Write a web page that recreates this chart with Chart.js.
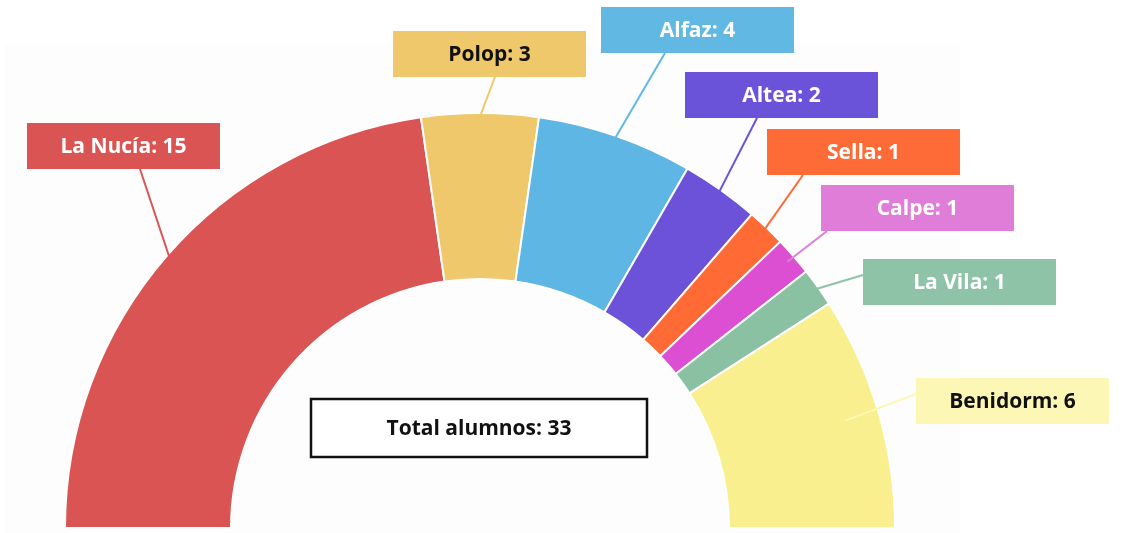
<!DOCTYPE html>
<html>
<head>
<meta charset="utf-8">
<script src="https://cdn.jsdelivr.net/npm/chart.js@4/dist/chart.umd.min.js"></script>
<style>
  html, body { margin: 0; padding: 0; background: #fff; }
  canvas { display: block; }
</style>
</head>
<body>
<canvas id="myChart" width="1129" height="533"></canvas>
<script>
// alumnos por municipio
const towns = ['La Nucía', 'Polop', 'Alfaz', 'Altea', 'Sella', 'Calpe', 'La Vila', 'Benidorm'];
const students = [15, 3, 4, 2, 1, 1, 1, 6];

const sliceColors = ['#db5454', '#eec86a', '#5db6e3', '#6b52d9', '#ff6a35', '#dc4ed2', '#8bc1a3', '#f9ef8f'];
const boxColors = ['#db5454', '#eec86a', '#60b8e3', '#6b53d9', '#ff6b36', '#e07dd9', '#8fc3a7', '#fdf7b5'];
const textColors = ['#fff', '#111', '#fff', '#fff', '#fff', '#fff', '#fff', '#111'];

// where each callout box sits, where its line leaves the box, and how deep it reaches into the ring
const callouts = [
    { x: 27, y: 123, ax: 113, ay: 46, depth: 0.97 },
    { x: 393, y: 31, ax: 102, ay: 46, depth: 0.98 },
    { x: 601, y: 7, ax: 64, ay: 46, depth: 0.98 },
    { x: 685, y: 72, ax: 72, ay: 46, depth: 0.98 },
    { x: 767, y: 129, ax: 36, ay: 46, depth: 0.98 },
    { x: 821, y: 185, ax: 6, ay: 46, depth: 0.95 },
    { x: 863, y: 259, ax: 0, ay: 16, depth: 0.98 },
    { x: 916, y: 378, ax: 0, ay: 16, depth: 0.79 }
];
const boxW = 193;
const boxH = 46;
const labelFont = 'bold 21px "Open Sans"';

const total = students.reduce((a, b) => a + b, 0);

const backdrop = {
    id: 'backdrop',
    beforeDraw(chart) {
        const ctx = chart.ctx;
        ctx.save();
        ctx.fillStyle = '#fdfdfd';
        ctx.fillRect(5, 45, 955, 488);
        ctx.restore();
    }
};

const callout = {
    id: 'callout',
    afterDatasetsDraw(chart) {
        const ctx = chart.ctx;
        const arcs = chart.getDatasetMeta(0).data;
        ctx.save();
        arcs.forEach((arc, i) => {
            const p = arc.getProps(['x', 'y', 'startAngle', 'endAngle', 'innerRadius', 'outerRadius'], true);
            const mid = (p.startAngle + p.endAngle) / 2;
            const c = callouts[i];
            const r = p.innerRadius + (p.outerRadius - p.innerRadius) * c.depth;
            const ex = p.x + Math.cos(mid) * r;
            const ey = p.y + Math.sin(mid) * r;

            ctx.strokeStyle = boxColors[i];
            ctx.lineWidth = 2;
            ctx.beginPath();
            ctx.moveTo(c.x + c.ax, c.y + c.ay);
            ctx.lineTo(ex, ey);
            ctx.stroke();

            ctx.fillStyle = boxColors[i];
            ctx.fillRect(c.x, c.y, boxW, boxH);
            ctx.fillStyle = textColors[i];
            ctx.font = labelFont;
            ctx.textAlign = 'center';
            ctx.textBaseline = 'middle';
            ctx.fillText(towns[i] + ': ' + students[i], c.x + boxW / 2, c.y + boxH / 2 + 1);
        });

        // total box inside the ring
        ctx.fillStyle = '#fff';
        ctx.fillRect(311, 399, 336, 58);
        ctx.strokeStyle = '#111';
        ctx.lineWidth = 2.5;
        ctx.strokeRect(311, 399, 336, 58);
        ctx.fillStyle = '#111';
        ctx.font = labelFont;
        ctx.textAlign = 'center';
        ctx.textBaseline = 'middle';
        ctx.fillText('Total alumnos: ' + total, 479, 429);
        ctx.restore();
    }
};

function drawChart() {
    const data = {
        labels: towns,
        datasets: [{
            label: 'Alumnos',
            data: students,
            backgroundColor: sliceColors,
            borderColor: '#fff',
            borderWidth: 2
        }]
    };
    const config = {
        type: 'doughnut',
        data: data,
        options: {
            responsive: false,
            animation: false,
            events: [],
            rotation: -90,
            circumference: 180,
            cutout: '60%',
            layout: {
                padding: { left: 64, right: 233, top: 112, bottom: 4 }
            },
            plugins: {
                legend: { display: false },
                tooltip: { enabled: false }
            }
        },
        plugins: [backdrop, callout]
    };
    new Chart(document.getElementById('myChart'), config);
}

document.fonts.load(labelFont).then(drawChart, drawChart);
</script>
</body>
</html>
